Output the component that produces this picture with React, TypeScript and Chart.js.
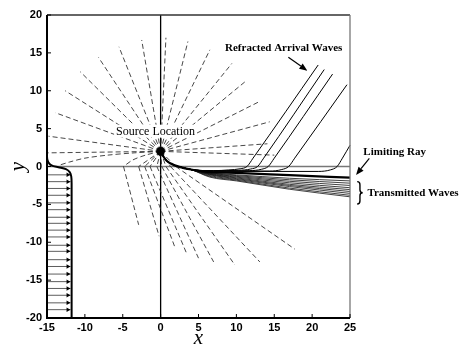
import { useEffect, useRef } from "react";
import { Chart, registerables } from "chart.js";
Chart.register(...registerables);

// ---- axis setup ----
const xRange = [-15, 25];
const yRange = [-20, 20];
const tickStep = 5;

// ---- source ----
const source = [0, 2];

// ---- dashed rays in upper medium (end points, drawn from the source) ----
const upperRayEndX = [-15.0, -14.8, -13.9, -12.6, -10.6, -8.2, -5.5, -2.5, 0.7, 3.6, 6.5, 9.4, 11.4, 13.1, 14.4, 14.1, 15.0];
const upperRayEndY = [1.8, 4.0, 7.1, 10.0, 12.5, 14.4, 15.8, 16.7, 17.0, 16.5, 15.4, 13.6, 11.4, 8.6, 5.9, 3.0, 1.5];

// ---- grazing ray that bends along the interface ----
const grazingRayX = [0, -3.5, -7, -10, -12, -13.3];
const grazingRayY = [2, 1.8, 1.5, 1.1, 0.6, 0.2];

// ---- rays crossing the interface (negatively refracted) ----
const firstLowerRayX = [0, -2, -3.7, -4.9];
const firstLowerRayY = [2, 1.5, 0.85, 0];
const lowerRayCrossX = [-4.9, -2.9, -2.1, -1.4, -0.5, 0.15, 0.7, 1.3, 2.0];
const lowerRayEndX = [-2.9, -0.2, 1.9, 3.4, 5.0, 7.0, 9.8, 13.1, 17.7];
const lowerRayEndY = [-7.7, -9.2, -10.7, -11.4, -12.1, -12.6, -13.0, -12.6, -10.9];

// ---- solid bundle leaving the source ----
const bundleStartX = [0, 0.35, 0.8, 1.5, 2.5, 4];
const bundleStartY = [2, 1.35, 0.75, 0.3, -0.05, -0.4];

const limitingRayX = [6.5, 10, 17, 25];
const limitingRayY = [-0.75, -0.85, -1.15, -1.48];

const transmittedX = [6.5, 10, 17, 25];
const transmittedY = [
  [-0.85, -1.1, -1.55, -1.9],
  [-0.9, -1.2, -1.75, -2.2],
  [-0.95, -1.3, -1.95, -2.5],
  [-1.0, -1.4, -2.15, -2.8],
  [-1.05, -1.5, -2.35, -3.05],
  [-1.1, -1.6, -2.5, -3.3],
  [-1.2, -1.7, -2.65, -3.55],
  [-1.3, -1.8, -2.85, -3.8],
  [-1.4, -1.9, -3.0, -4.0],
];

// refracted arrival waves
const refractedX = [
  [7, 9, 10.5, 11.4, 12.2, 20.8],
  [7, 10.3, 11.9, 12.8, 13.6, 21.6],
  [7, 11.7, 13.3, 14.2, 15.0, 22.7],
  [7, 14.4, 16.0, 16.9, 17.7, 24.6],
  [7, 20.8, 22.4, 23.3, 24.0, 25],
];
const refractedY = [
  [-0.55, -0.45, -0.3, 0, 1.1, 13.4],
  [-0.55, -0.5, -0.33, 0, 1.1, 12.8],
  [-0.6, -0.55, -0.37, 0, 1.1, 12.2],
  [-0.6, -0.6, -0.4, 0, 1.1, 10.8],
  [-0.65, -0.65, -0.45, 0, 1.1, 2.8],
];

// ---- left boundary and incident arrows ----
const boundaryX = [-15, -15, -14.85, -14.4, -13.5, -12.5, -12.0, -11.8, -11.75, -11.75];
const boundaryY = [20, 1.3, 0.6, 0.15, -0.1, -0.35, -0.75, -1.3, -2.2, -20];
const arrowY = [-1.1, -2.0, -2.9, -3.8, -4.8, -5.7, -6.7, -7.5, -8.4, -9.3, -10.4, -11.2, -12.3, -13.2, -14.2, -15.2, -16.1, -17.0, -18.0, -18.9];
const arrowStartX = -15;
const arrowEndX = -11.9;
const arrowHeadX = -12.25;

const pts = (xs: number[], ys: number[]) => xs.map((x, i) => ({ x, y: ys[i] }));

const dashed = { borderColor: "#333", borderWidth: 0.9, borderDash: [5, 3] };
const base = { showLine: true, pointRadius: 0, fill: false, clip: false as any };

function buildDatasets() {
  const ds: any[] = [];
  ds.push({ data: [{ x: source[0], y: source[1] }], pointRadius: 4.3, pointBackgroundColor: "#000", pointBorderWidth: 0, showLine: false });
  ds.push({ ...base, data: pts([...bundleStartX, ...limitingRayX], [...bundleStartY, ...limitingRayY]), borderColor: "#000", borderWidth: 2.2, cubicInterpolationMode: "monotone" });
  refractedX.forEach((xs, i) => {
    ds.push({ ...base, data: pts([...bundleStartX, ...xs], [...bundleStartY, ...refractedY[i]]), borderColor: "#000", borderWidth: 1, cubicInterpolationMode: "monotone" });
  });
  transmittedY.forEach((ys) => {
    ds.push({ ...base, data: pts([...bundleStartX, ...transmittedX], [...bundleStartY, ...ys]), borderColor: "#111", borderWidth: 0.8, cubicInterpolationMode: "monotone" });
  });
  ds.push({ ...base, data: pts(boundaryX, boundaryY), borderColor: "#000", borderWidth: 2, tension: 0.3 });
  ds.push({ data: arrowY.map((y) => ({ x: arrowHeadX, y })), showLine: false, pointStyle: "triangle", rotation: 90, pointRadius: 2.6, pointBackgroundColor: "#000", pointBorderWidth: 0, clip: false });
  const shaft: any[] = [];
  arrowY.forEach((y) => {
    shaft.push({ x: arrowStartX, y }, { x: arrowEndX, y }, { x: arrowEndX, y: null });
  });
  ds.push({ ...base, data: shaft, borderColor: "#333", borderWidth: 0.8, spanGaps: false });
  upperRayEndX.forEach((x, i) => {
    ds.push({ ...base, ...dashed, data: [{ x: source[0], y: source[1] }, { x, y: upperRayEndY[i] }] });
  });
  ds.push({ ...base, ...dashed, data: pts(grazingRayX, grazingRayY), tension: 0.3 });
  lowerRayCrossX.forEach((cx, i) => {
    if (i === 0) {
      ds.push({ ...base, ...dashed, data: pts(firstLowerRayX, firstLowerRayY), tension: 0.3 });
    } else {
      ds.push({ ...base, ...dashed, data: [{ x: source[0], y: source[1] }, { x: cx, y: 0 }] });
    }
    ds.push({ ...base, ...dashed, data: [{ x: cx, y: 0 }, { x: lowerRayEndX[i], y: lowerRayEndY[i] }] });
  });
  ds.push({ ...base, data: [{ x: 0, y: yRange[0] }, { x: 0, y: yRange[1] }], borderColor: "#000", borderWidth: 1.3 });
  ds.push({ ...base, data: [{ x: xRange[0], y: 0 }, { x: xRange[1], y: 0 }], borderColor: "#777", borderWidth: 1.6 });
  return ds;
}

function arrow(ctx: CanvasRenderingContext2D, x1: number, y1: number, x2: number, y2: number, L = 8, W = 3.2) {
  const ang = Math.atan2(y2 - y1, x2 - x1);
  const bx = x2 - L * Math.cos(ang);
  const by = y2 - L * Math.sin(ang);
  ctx.beginPath();
  ctx.moveTo(x1, y1);
  ctx.lineTo(bx, by);
  ctx.stroke();
  ctx.beginPath();
  ctx.moveTo(x2, y2);
  ctx.lineTo(bx + W * Math.sin(ang), by - W * Math.cos(ang));
  ctx.lineTo(bx - W * Math.sin(ang), by + W * Math.cos(ang));
  ctx.closePath();
  ctx.fill();
}

const decorPlugin = {
  id: "decor",
  afterDatasetsDraw(chart: any) {
    const { ctx, chartArea: a, scales } = chart;
    const xs = scales.x;
    const ys = scales.y;
    const X = (v: number) => xs.getPixelForValue(v);
    const Y = (v: number) => ys.getPixelForValue(v);
    ctx.save();
    ctx.strokeStyle = "#333";
    ctx.lineWidth = 1.3;
    ctx.beginPath(); ctx.moveTo(a.left, a.top); ctx.lineTo(a.right, a.top); ctx.stroke();
    ctx.strokeStyle = "#777";
    ctx.beginPath(); ctx.moveTo(a.right, a.top); ctx.lineTo(a.right, a.bottom); ctx.stroke();
    ctx.strokeStyle = "#000";
    ctx.lineWidth = 2;
    ctx.beginPath(); ctx.moveTo(a.left, a.top); ctx.lineTo(a.left, a.bottom); ctx.lineTo(a.right, a.bottom); ctx.stroke();
    ctx.lineWidth = 1;
    xs.ticks.forEach((t: any) => { const p = X(t.value); ctx.beginPath(); ctx.moveTo(p, a.bottom); ctx.lineTo(p, a.bottom - 4); ctx.stroke(); });
    ys.ticks.forEach((t: any) => { const p = Y(t.value); ctx.beginPath(); ctx.moveTo(a.left, p); ctx.lineTo(a.left + 4, p); ctx.stroke(); });

    ctx.font = '12px "Liberation Serif"';
    const t = "Source Location";
    const w = ctx.measureText(t).width;
    const cx = X(-0.67), cy = Y(4.6);
    ctx.fillStyle = "#fff";
    ctx.fillRect(cx - w / 2 - 2, cy - 7, w + 4, 13);
    ctx.fillStyle = "#000";
    ctx.textAlign = "center";
    ctx.textBaseline = "middle";
    ctx.fillText(t, cx, cy);

    ctx.font = 'bold 11px "Liberation Serif"';
    ctx.textAlign = "left";
    ctx.fillText("Refracted Arrival Waves", X(8.5), Y(15.64));
    ctx.fillText("Limiting Ray", X(26.76), Y(1.95));
    ctx.fillText("Transmitted Waves", X(27.3), Y(-3.5));

    ctx.strokeStyle = "#000";
    ctx.lineWidth = 1.2;
    arrow(ctx, X(16.86), Y(14.42), X(19.37), Y(12.65));
    arrow(ctx, X(27.55), Y(1.08), X(25.8), Y(-1.12));

    const bx = X(25.95), y1 = Y(-2.0), y2 = Y(-4.95), ym = (y1 + y2) / 2, bw = 5.5, r = 3;
    ctx.lineWidth = 1.4;
    ctx.beginPath();
    ctx.moveTo(bx, y1);
    ctx.quadraticCurveTo(bx + bw / 2, y1, bx + bw / 2, y1 + r);
    ctx.lineTo(bx + bw / 2, ym - r);
    ctx.quadraticCurveTo(bx + bw / 2, ym, bx + bw, ym);
    ctx.quadraticCurveTo(bx + bw / 2, ym, bx + bw / 2, ym + r);
    ctx.lineTo(bx + bw / 2, y2 - r);
    ctx.quadraticCurveTo(bx + bw / 2, y2, bx, y2);
    ctx.stroke();
    ctx.restore();
  },
};

export default function App() {
  const ref = useRef<HTMLCanvasElement>(null);
  useEffect(() => {
    document.body.style.margin = "0";
    const tickFont = { family: "Liberation Sans", weight: "bold" as const, size: 11 };
    const chart = new Chart(ref.current!, {
      type: "scatter",
      data: { datasets: buildDatasets() },
      options: {
        animation: false,
        responsive: false,
        devicePixelRatio: 1,
        events: [],
        layout: { padding: { left: 0, top: 15, right: 122, bottom: 0 } },
        plugins: { legend: { display: false }, tooltip: { enabled: false } },
        scales: {
          x: {
            type: "linear",
            min: xRange[0],
            max: xRange[1],
            afterFit: (s: any) => { s.height = 29; },
            grid: { display: false, drawTicks: false },
            border: { display: false },
            ticks: { stepSize: tickStep, font: tickFont, color: "#000", padding: 3, maxRotation: 0, autoSkip: false },
            title: { display: true, text: "x", color: "#000", font: { family: "Liberation Serif", style: "italic", size: 21, lineHeight: 0.8 }, padding: { top: 0, bottom: 0 } },
          },
          y: {
            type: "linear",
            min: yRange[0],
            max: yRange[1],
            afterFit: (s: any) => { s.width = 47; },
            grid: { display: false, drawTicks: false },
            border: { display: false },
            ticks: { stepSize: tickStep, font: tickFont, color: "#000", padding: 5, autoSkip: false },
            title: { display: true, text: "y", color: "#000", font: { family: "Liberation Serif", style: "italic", size: 21 }, padding: { top: 6, bottom: 0 } },
          },
        },
      },
      plugins: [decorPlugin],
    });
    return () => chart.destroy();
  }, []);
  return (
    <div style={{ width: 472, height: 347 }}>
      <canvas ref={ref} width={472} height={347} style={{ display: "block" }} />
    </div>
  );
}
